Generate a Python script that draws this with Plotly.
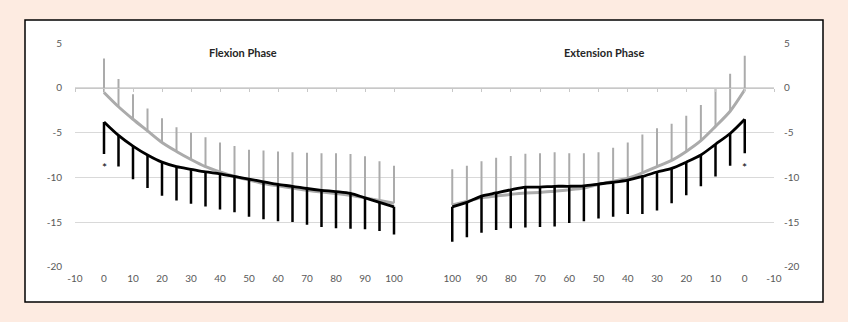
import plotly.graph_objects as go

# ---------------- data ----------------
pct = [0, 5, 10, 15, 20, 25, 30, 35, 40, 45, 50, 55, 60, 65, 70, 75, 80, 85, 90, 95, 100]

# Flexion phase
flex_gray_mean = [-0.5, -2.1, -3.5, -4.8, -6.1, -7.1, -8.0, -8.8, -9.4, -9.9, -10.3,
                  -10.7, -10.95, -11.2, -11.45, -11.65, -11.8, -12.0, -12.3, -12.6, -12.9]
flex_gray_top = [3.3, 1.0, -0.7, -2.3, -3.4, -4.4, -5.0, -5.5, -6.1, -6.5, -6.9,
                 -7.0, -7.1, -7.2, -7.25, -7.3, -7.3, -7.4, -7.65, -8.2, -8.7]
flex_black_mean = [-3.8, -5.3, -6.5, -7.5, -8.3, -8.8, -9.1, -9.4, -9.6, -9.9, -10.2,
                   -10.5, -10.8, -11.0, -11.25, -11.45, -11.6, -11.8, -12.3, -12.8, -13.3]
flex_black_bottom = [-7.4, -8.8, -10.2, -11.2, -12.05, -12.6, -12.95, -13.25, -13.6, -13.9, -14.4,
                     -14.7, -14.9, -15.0, -15.3, -15.55, -15.7, -15.75, -15.8, -16.0, -16.4]

# Extension phase
ext_gray_mean = [-0.2, -2.6, -4.3, -5.9, -7.1, -8.1, -8.8, -9.5, -10.1, -10.45, -10.8,
                 -11.2, -11.4, -11.55, -11.7, -11.75, -11.9, -12.1, -12.3, -12.7, -13.1]
ext_gray_top = [3.6, 1.6, -0.1, -1.9, -3.1, -4.0, -4.5, -5.2, -6.1, -6.7, -7.2,
                -7.3, -7.3, -7.2, -7.3, -7.35, -7.6, -7.8, -8.2, -8.7, -9.1]
ext_black_mean = [-3.5, -5.1, -6.3, -7.5, -8.3, -9.0, -9.4, -9.9, -10.3, -10.55, -10.75,
                  -10.95, -11.0, -11.0, -11.1, -11.1, -11.4, -11.75, -12.1, -12.8, -13.3]
ext_black_bottom = [-7.3, -8.7, -9.9, -11.0, -12.0, -12.9, -13.7, -14.1, -14.1, -14.4, -14.6,
                    -14.9, -15.1, -15.5, -15.55, -15.6, -15.7, -15.9, -16.2, -16.7, -17.2]

x_ticks_flex = [-10, 0, 10, 20, 30, 40, 50, 60, 70, 80, 90, 100]
x_ticks_ext = [100, 90, 80, 70, 60, 50, 40, 30, 20, 10, 0, -10]
y_ticks = [5, 0, -5, -10, -15, -20]
titles = ["Flexion Phase", "Extension Phase"]

# ---------------- style ----------------
W, H = 848, 322
BG = "#FDEBE1"
GRAY = "#ABABAB"
BLACK = "#000000"
GRID = "#D9D9D9"
LABEL = "#595959"
FONT = "Lato, 'Liberation Sans', sans-serif"

left_dom = [75 / W, 423 / W]
right_dom = [423 / W, 774 / W]
y_dom = [1 - 266.7 / H, 1 - 43.3 / H]
zero_pos = y_dom[0] + (0 - (-20)) / 25 * (y_dom[1] - y_dom[0])

fig = go.Figure()


def add_panel(xa, ya, gray_mean, gray_top, black_mean, black_bottom):
    up = [t - m for t, m in zip(gray_top, gray_mean)]
    down = [m - b for m, b in zip(black_mean, black_bottom)]
    fig.add_trace(go.Scatter(
        x=pct, y=gray_mean, xaxis=xa, yaxis=ya, mode="lines",
        line=dict(color=GRAY, width=3, shape="spline", smoothing=0.8),
        error_y=dict(type="data", symmetric=False, array=up,
                     arrayminus=[0] * len(up), color=GRAY, thickness=2, width=0),
        showlegend=False, hoverinfo="skip"))
    fig.add_trace(go.Scatter(
        x=pct, y=black_mean, xaxis=xa, yaxis=ya, mode="lines",
        line=dict(color=BLACK, width=2.8, shape="spline", smoothing=0.8),
        error_y=dict(type="data", symmetric=False, array=[0] * len(down),
                     arrayminus=down, color=BLACK, thickness=2.5, width=0),
        showlegend=False, hoverinfo="skip"))


add_panel("x", "y", flex_gray_mean, flex_gray_top, flex_black_mean, flex_black_bottom)
add_panel("x2", "y2", ext_gray_mean, ext_gray_top, ext_black_mean, ext_black_bottom)

# dummy traces so the zero-line axes render
fig.add_trace(go.Scatter(x=[None], y=[None], xaxis="x3", yaxis="y", showlegend=False, hoverinfo="skip"))
fig.add_trace(go.Scatter(x=[None], y=[None], xaxis="x4", yaxis="y2", showlegend=False, hoverinfo="skip"))

tickfont = dict(family=FONT, size=10, color=LABEL)
hidden_font = dict(family=FONT, size=1, color="rgba(0,0,0,0)")

fig.update_layout(
    width=W, height=H,
    margin=dict(l=0, r=0, t=0, b=0, pad=0),
    paper_bgcolor=BG,
    plot_bgcolor="rgba(0,0,0,0)",
    font=dict(family=FONT, color=LABEL),
    showlegend=False,
    xaxis=dict(domain=left_dom, range=[-10, 110], tickvals=x_ticks_flex,
               ticktext=[str(v) for v in x_ticks_flex], anchor="y", automargin=False,
               showgrid=False, zeroline=False, showline=False, ticks="",
               tickfont=tickfont, ticklabelstandoff=4),
    yaxis=dict(domain=y_dom, range=[-20, 5], tickvals=y_ticks,
               ticktext=[str(v) for v in y_ticks], anchor="x", automargin=False,
               showgrid=True, gridcolor=GRID, gridwidth=1, zeroline=False,
               showline=False, ticks="", tickfont=tickfont, ticklabelstandoff=12),
    xaxis2=dict(domain=right_dom, range=[110, -10], tickvals=x_ticks_ext,
                ticktext=[str(v) for v in x_ticks_ext], anchor="y2", automargin=False,
                showgrid=False, zeroline=False, showline=False, ticks="",
                tickfont=tickfont, ticklabelstandoff=4),
    yaxis2=dict(domain=y_dom, range=[-20, 5], tickvals=y_ticks,
                ticktext=[str(v) for v in y_ticks], anchor="x2", side="right",
                automargin=False,
                showgrid=True, gridcolor=GRID, gridwidth=1, zeroline=False,
                showline=False, ticks="", tickfont=tickfont, ticklabelstandoff=9),
    xaxis3=dict(overlaying="x", anchor="free", position=zero_pos, range=[-10, 110],
                automargin=False, tickfont=hidden_font,
                tickvals=x_ticks_flex, showticklabels=False, showgrid=False, zeroline=False,
                showline=True, linecolor="#C8C8C8", linewidth=1, ticks="outside",
                ticklen=3, tickcolor="#C8C8C8"),
    xaxis4=dict(overlaying="x2", anchor="free", position=zero_pos, range=[110, -10],
                automargin=False, tickfont=hidden_font,
                tickvals=x_ticks_ext, showticklabels=False, showgrid=False, zeroline=False,
                showline=True, linecolor="#C8C8C8", linewidth=1, ticks="outside",
                ticklen=3, tickcolor="#C8C8C8"),
    shapes=[dict(type="rect", xref="paper", yref="paper",
                 x0=25 / W, x1=823 / W, y0=1 - 302 / H, y1=1 - 20 / H,
                 fillcolor="white", line=dict(color="black", width=1.5), layer="below")],
    annotations=[
        dict(text="<b>" + titles[0] + "</b>", x=48, y=4, xref="x", yref="y",
             showarrow=False, font=dict(family=FONT, size=11, color="#262626")),
        dict(text="<b>" + titles[1] + "</b>", x=48, y=4, xref="x2", yref="y2",
             showarrow=False, font=dict(family=FONT, size=11, color="#262626")),
        dict(text="*", x=0, y=-8.9, xref="x", yref="y", showarrow=False,
             font=dict(family=FONT, size=12, color="black")),
        dict(text="*", x=0, y=-8.9, xref="x2", yref="y2", showarrow=False,
             font=dict(family=FONT, size=12, color="black")),
    ],
)

fig.write_html("out.html")
